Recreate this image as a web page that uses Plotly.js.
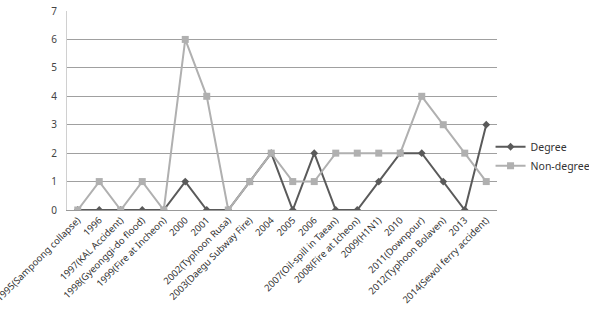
<!DOCTYPE html>
<html>
<head>
<meta charset="utf-8">
<script src="https://cdn.plot.ly/plotly-3.0.1.min.js"></script>
<style>html,body{margin:0;padding:0;background:#fff;}#chart{width:589px;height:309px;}</style>
</head>
<body>
<div id="chart"></div>
<script>
const categories = [
  "1995(Sampoong collapse)", "1996", "1997(KAL Accident)", "1998(Gyeonggi-do flood)",
  "1999(Fire at Incheon)", "2000", "2001", "2002(Typhoon Rusa)", "2003(Daegu Subway Fire)",
  "2004", "2005", "2006", "2007(Oil-spill in Taean)", "2008(Fire at Icheon)", "2009(H1N1)",
  "2010", "2011(Downpour)", "2012(Typhoon Bolaven)", "2013", "2014(Sewol ferry accident)"
];
const degree    = [0,0,0,0,0,1,0,0,1,2,0,2,0,0,1,2,2,1,0,3];
const nonDegree = [0,1,0,1,0,6,4,0,1,2,1,1,2,2,2,2,4,3,2,1];
const yTicks = [0,1,2,3,4,5,6,7];

const traces = [
  {
    x: categories, y: degree, name: "Degree", type: "scatter", mode: "lines+markers",
    line: {color: "#5a5a5a", width: 2},
    marker: {symbol: "diamond", size: 6, color: "#5a5a5a"}
  },
  {
    x: categories, y: nonDegree, name: "Non-degree", type: "scatter", mode: "lines+markers",
    line: {color: "#b0b0b0", width: 2},
    marker: {symbol: "square", size: 7, color: "#b0b0b0"}
  }
];

const layout = {
  width: 589, height: 309,
  margin: {l: 67, r: 92, t: 11, b: 99, autoexpand: false},
  paper_bgcolor: "#ffffff", plot_bgcolor: "#ffffff",
  font: {family: "Noto Sans, Open Sans, sans-serif", size: 10, color: "#444"},
  showlegend: true,
  legend: {x: 0.985, y: 0.27, xanchor: "left", yanchor: "middle",
           font: {size: 10.5, color: "#333"}, bgcolor: "rgba(0,0,0,0)",
           tracegroupgap: 0, itemwidth: 30},
  xaxis: {
    type: "category", tickangle: -45, showgrid: false, zeroline: false, automargin: false,
    showline: true, linecolor: "#999", linewidth: 1, ticks: "",
    tickfont: {size: 9.5, color: "#333"}, range: [-0.5, categories.length - 0.5]
  },
  yaxis: {
    range: [0, 7], tickvals: yTicks, ticktext: yTicks.map(String), automargin: false,
    showgrid: true, gridcolor: "#a0a0a0", gridwidth: 1, zeroline: false,
    showline: true, linecolor: "#d0d0d0", mirror: false, ticks: "",
    ticklabelstandoff: 7,
    tickfont: {size: 10, color: "#444"}
  }
};

Plotly.newPlot("chart", traces, layout, {displayModeBar: false, staticPlot: true});
</script>
</body>
</html>
